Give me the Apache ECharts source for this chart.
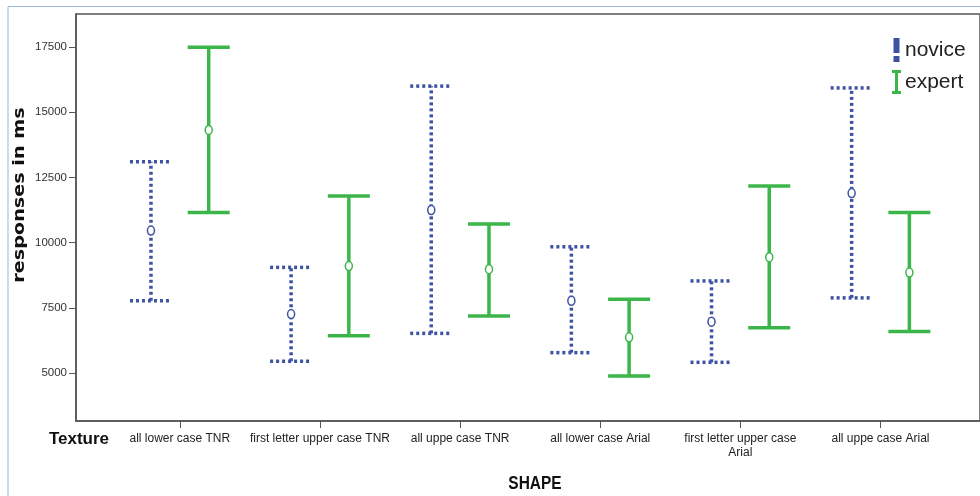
<!DOCTYPE html>
<html>
<head>
<meta charset="utf-8">
<script src="https://cdn.jsdelivr.net/npm/echarts@6/dist/echarts.min.js"></script>
<style>html,body{margin:0;padding:0;background:#fff;}#c{width:980px;height:496px;}</style>
</head>
<body>
<div id="c"></div>
<script>
const categories = ['all lower case TNR', 'first letter upper case TNR', 'all uppe case TNR', 'all lower case Arial', 'first letter upper case\nArial', 'all uppe case Arial'];
// [mean, lower, upper]
const noviceMean  = [10460, 7260, 11250, 7770, 6970, 11900];
const noviceLow   = [7770, 5450, 6520, 5780, 5410, 7880];
const noviceHigh  = [13100, 9050, 16000, 9840, 8530, 15930];
const expertMean  = [14320, 9100, 8980, 6370, 9440, 8850];
const expertLow   = [11150, 6430, 7190, 4890, 6740, 6590];
const expertHigh  = [17490, 11790, 10710, 7830, 12170, 11150];
const yTicks = [5000, 7500, 10000, 12500, 15000, 17500];

const chart = echarts.init(document.getElementById('c'));

function makeData(m, lo, hi) {
  return categories.map((c, i) => [i, m[i], lo[i], hi[i]]);
}
function makeRender(offset, color, dashed) {
  return function (params, api) {
    const x = api.value(0) + offset;
    const pm = api.coord([x, api.value(1)]);
    const pl = api.coord([x, api.value(2)]);
    const ph = api.coord([x, api.value(3)]);
    const hw = 21;
    const style = {stroke: color, lineWidth: 3.5, lineDash: dashed ? [3, 3] : null, lineCap: 'butt'};
    return {
      type: 'group',
      children: [
        {type: 'line', shape: {x1: pl[0], y1: pl[1], x2: ph[0], y2: ph[1]}, style: style},
        {type: 'line', shape: {x1: ph[0] - hw, y1: ph[1], x2: ph[0] + hw, y2: ph[1]}, style: style},
        {type: 'line', shape: {x1: pl[0] - hw, y1: pl[1], x2: pl[0] + hw, y2: pl[1]}, style: style},
        {type: 'ellipse', shape: {cx: pm[0], cy: pm[1], rx: 3.5, ry: 4.5}, style: {fill: '#fff', stroke: color, lineWidth: 1.5}}
      ]
    };
  };
}

const blue = '#3d52a3';
const green = '#3cb64a';

chart.setOption({
  animation: false,
  grid: {left: 76, top: 14, right: -6, bottom: 75, show: true, borderColor: '#555', borderWidth: 1.5},
  xAxis: {
    type: 'value', min: -0.741, max: 5.71,
    splitLine: {show: false},
    axisLine: {show: true, onZero: false, lineStyle: {color: '#555', width: 1.5}},
    axisTick: {show: true, length: 7, lineStyle: {color: '#555'}, customValues: [0, 1, 2, 3, 4, 5]},
    axisLabel: {customValues: [0, 1, 2, 3, 4, 5], formatter: v => categories[Math.round(v)] || '', color: '#222', fontFamily: 'Liberation Sans', fontSize: 12, margin: 11, lineHeight: 14}
  },
  yAxis: {
    type: 'value', min: 3160, max: 18765,
    splitLine: {show: false},
    axisLine: {show: true, onZero: false, lineStyle: {color: '#555', width: 1.5}},
    axisTick: {show: true, length: 7, lineStyle: {color: '#555'}, customValues: yTicks},
    axisLabel: {customValues: yTicks, formatter: v => String(v), color: '#333', fontFamily: 'Liberation Sans', fontSize: 11.5, margin: 9}
  },
  legend: {
    orient: 'vertical', left: 887, top: 33, itemWidth: 9, itemHeight: 24, itemGap: 8,
    textStyle: {fontFamily: 'Liberation Sans', fontSize: 21, color: '#222', padding: [0, 0, 0, -1]},
    data: [
      {name: 'novice', icon: 'path://M0,0h6v15h-6z M0,18h6v6h-6z', itemStyle: {color: blue}},
      {name: 'expert', icon: 'path://M0,0h9v3h-3v18h3v3h-9v-3h3v-18h-3z', itemStyle: {color: green}}
    ]
  },
  graphic: [
    {type: 'polyline', shape: {points: [[8, 496], [8, 6.5], [980, 6.5]]}, style: {stroke: '#9db7dc', lineWidth: 1, fill: null}},
    {type: 'text', x: 20, y: 195, rotation: Math.PI / 2, scaleX: 1.28, style: {text: 'responses in ms', font: 'bold 15px DejaVu Sans', fill: '#111', textAlign: 'center', textVerticalAlign: 'middle'}},
    {type: 'text', x: 79, y: 439, style: {text: 'Texture', font: 'bold 17px Liberation Sans', fill: '#111', textAlign: 'center', textVerticalAlign: 'middle'}},
    {type: 'text', x: 535, y: 484, scaleX: 0.86, style: {text: 'SHAPE', font: 'bold 18px Liberation Sans', fill: '#111', textAlign: 'center', textVerticalAlign: 'middle'}}
  ],
  series: [
    {name: 'novice', type: 'custom', data: makeData(noviceMean, noviceLow, noviceHigh), renderItem: makeRender(-0.206, blue, true), itemStyle: {color: blue}, encode: {x: 0, y: [1, 2, 3]}},
    {name: 'expert', type: 'custom', data: makeData(expertMean, expertLow, expertHigh), renderItem: makeRender(0.206, green, false), itemStyle: {color: green}, encode: {x: 0, y: [1, 2, 3]}}
  ]
});
</script>
</body>
</html>
